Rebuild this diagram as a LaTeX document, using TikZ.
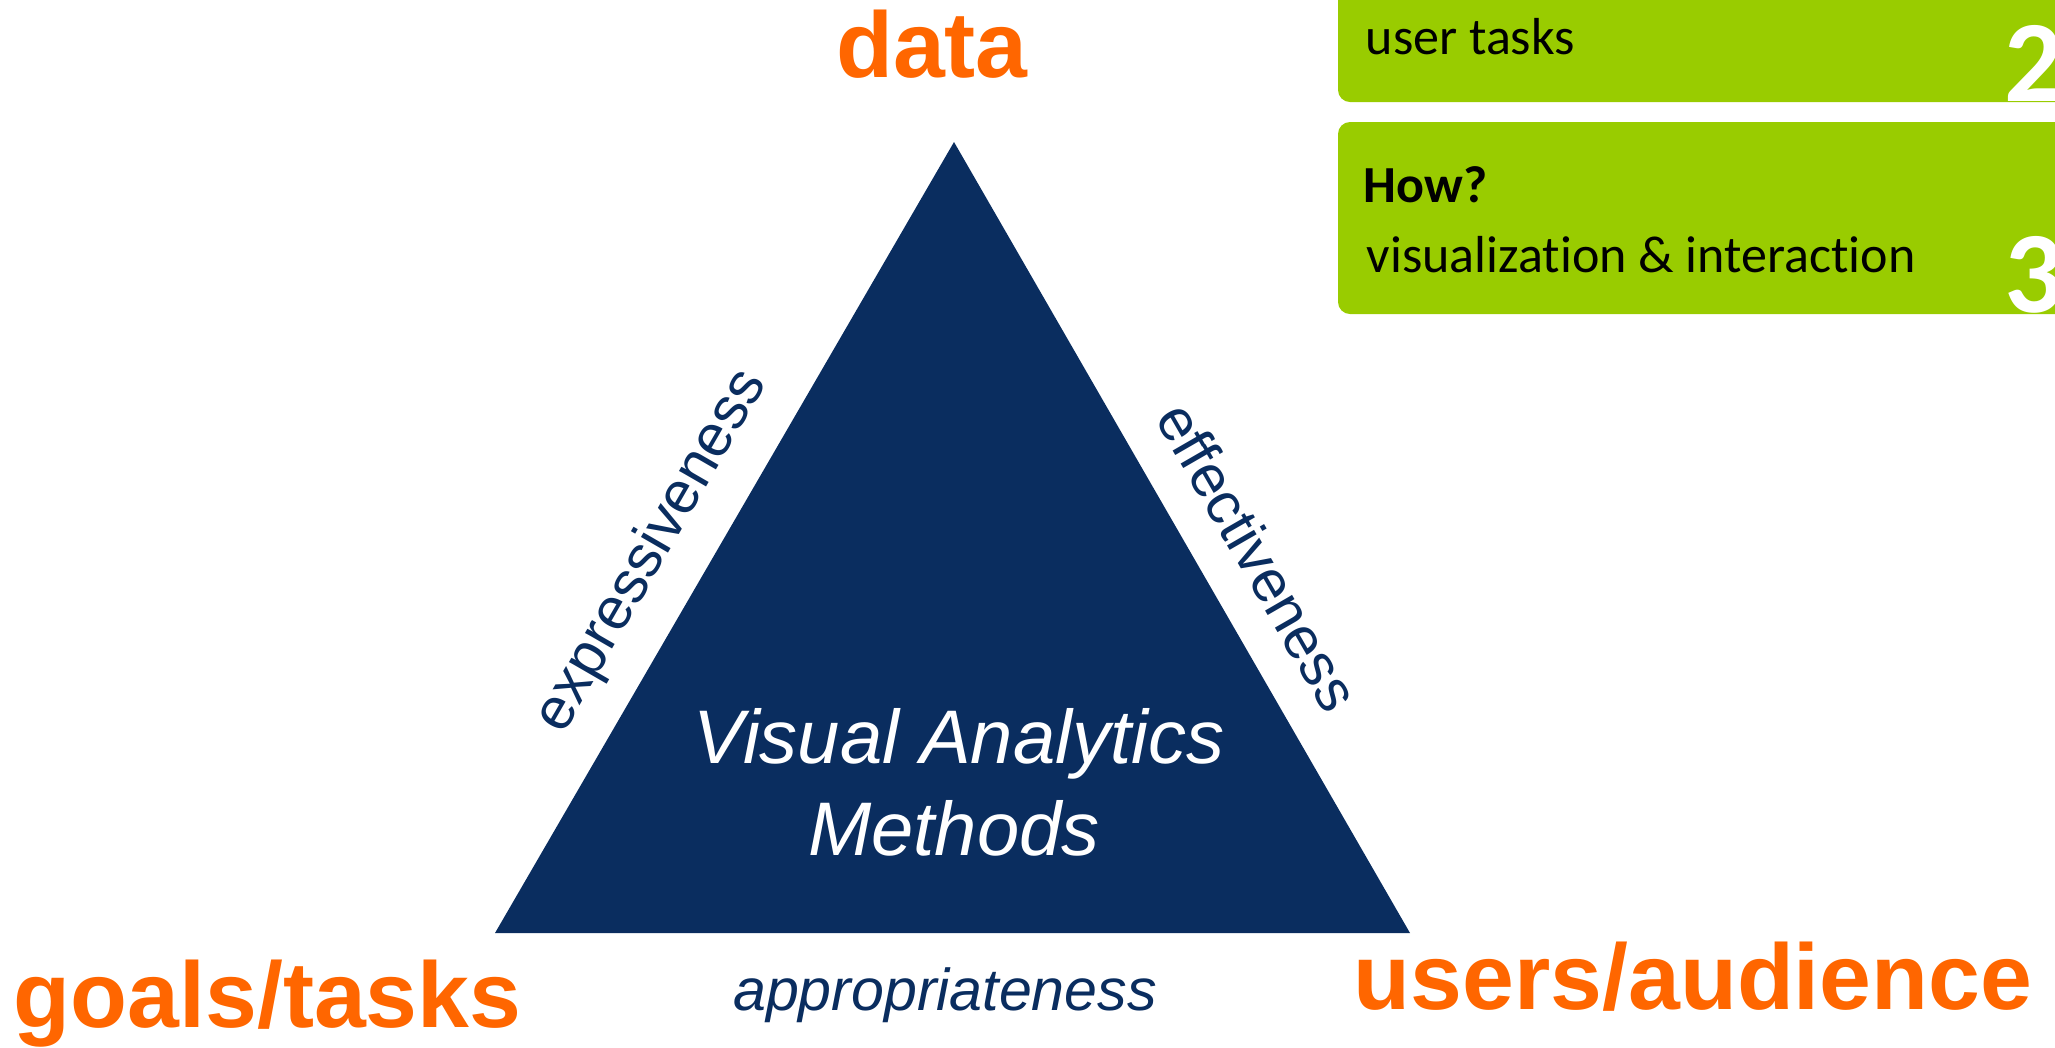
\documentclass[tikz,border=0pt]{standalone}
\usepackage{fontspec}
\setmainfont{Liberation Sans}
\newfontfamily\boxfont[Ligatures=NoCommon]{Carlito}
\definecolor{navy}{RGB}{10,45,95}
\definecolor{vaorange}{RGB}{255,102,0}
\definecolor{vagreen}{RGB}{153,204,0}
\tikzset{
  corner/.style={text=vaorange, font=\bfseries\fontsize{26.5}{30}\selectfont, inner sep=0pt, anchor=base},
  criterion/.style={text=navy, font=\fontsize{16.8}{20}\selectfont, inner sep=0pt, anchor=base},
  method/.style={text=white, font=\itshape\fontsize{21.6}{26}\selectfont, inner sep=0pt, anchor=base},
  question/.style={fill=vagreen, rounded corners=0.12cm},
  boxtext/.style={font=\boxfont\fontsize{14.8}{18}\selectfont, inner sep=0pt, anchor=base west},
  boxnum/.style={text=white, font=\boxfont\bfseries\fontsize{33}{36}\selectfont, inner sep=0pt, anchor=base west}
}
\begin{document}
\begin{tikzpicture}[x=0.01cm, y=-0.01cm]
  \clip (0,0) rectangle (2055,1047);
  % the triangle
  \fill[navy] (495,933) coordinate (goals) -- (954,142) coordinate (data)
    -- (1410,933) coordinate (users) -- cycle;
  \draw
    (932,77) node[corner] (datalabel) {data}
    (13,1027) node[corner, anchor=base west] (goalslabel) {goals/tasks}
    (1693,1009) node[corner] (userslabel) {users/audience};
  \draw
    (665,559) node[criterion, rotate=60] (expr) {expressiveness}
    (1240,567) node[criterion, rotate=-60] (effect) {effectiveness}
    (945,1010) node[criterion] (approp) {\itshape appropriateness};
  \draw
    (959,763) node[method] (vatitle) {Visual Analytics}
    (954,855) node[method] (vamethods) {Methods};
  % question boxes
  \fill[question] (1338,-40) rectangle (2100,102);
  \fill[question] (1338,122) rectangle (2100,314);
  \draw
    (1364,-11) node[boxtext, font=\boxfont\bfseries\fontsize{14.8}{18}\selectfont] (why) {Why?}
    (1365,54) node[boxtext] (whytext) {user tasks}
    (1363,202) node[boxtext, font=\boxfont\bfseries\fontsize{14.8}{18}\selectfont] (how) {How?}
    (1366,272) node[boxtext] (howtext) {visualization \& interaction}
    (2004,101) node[boxnum] (two) {2}
    (2004,312) node[boxnum] (three) {3};
\end{tikzpicture}
\end{document}
